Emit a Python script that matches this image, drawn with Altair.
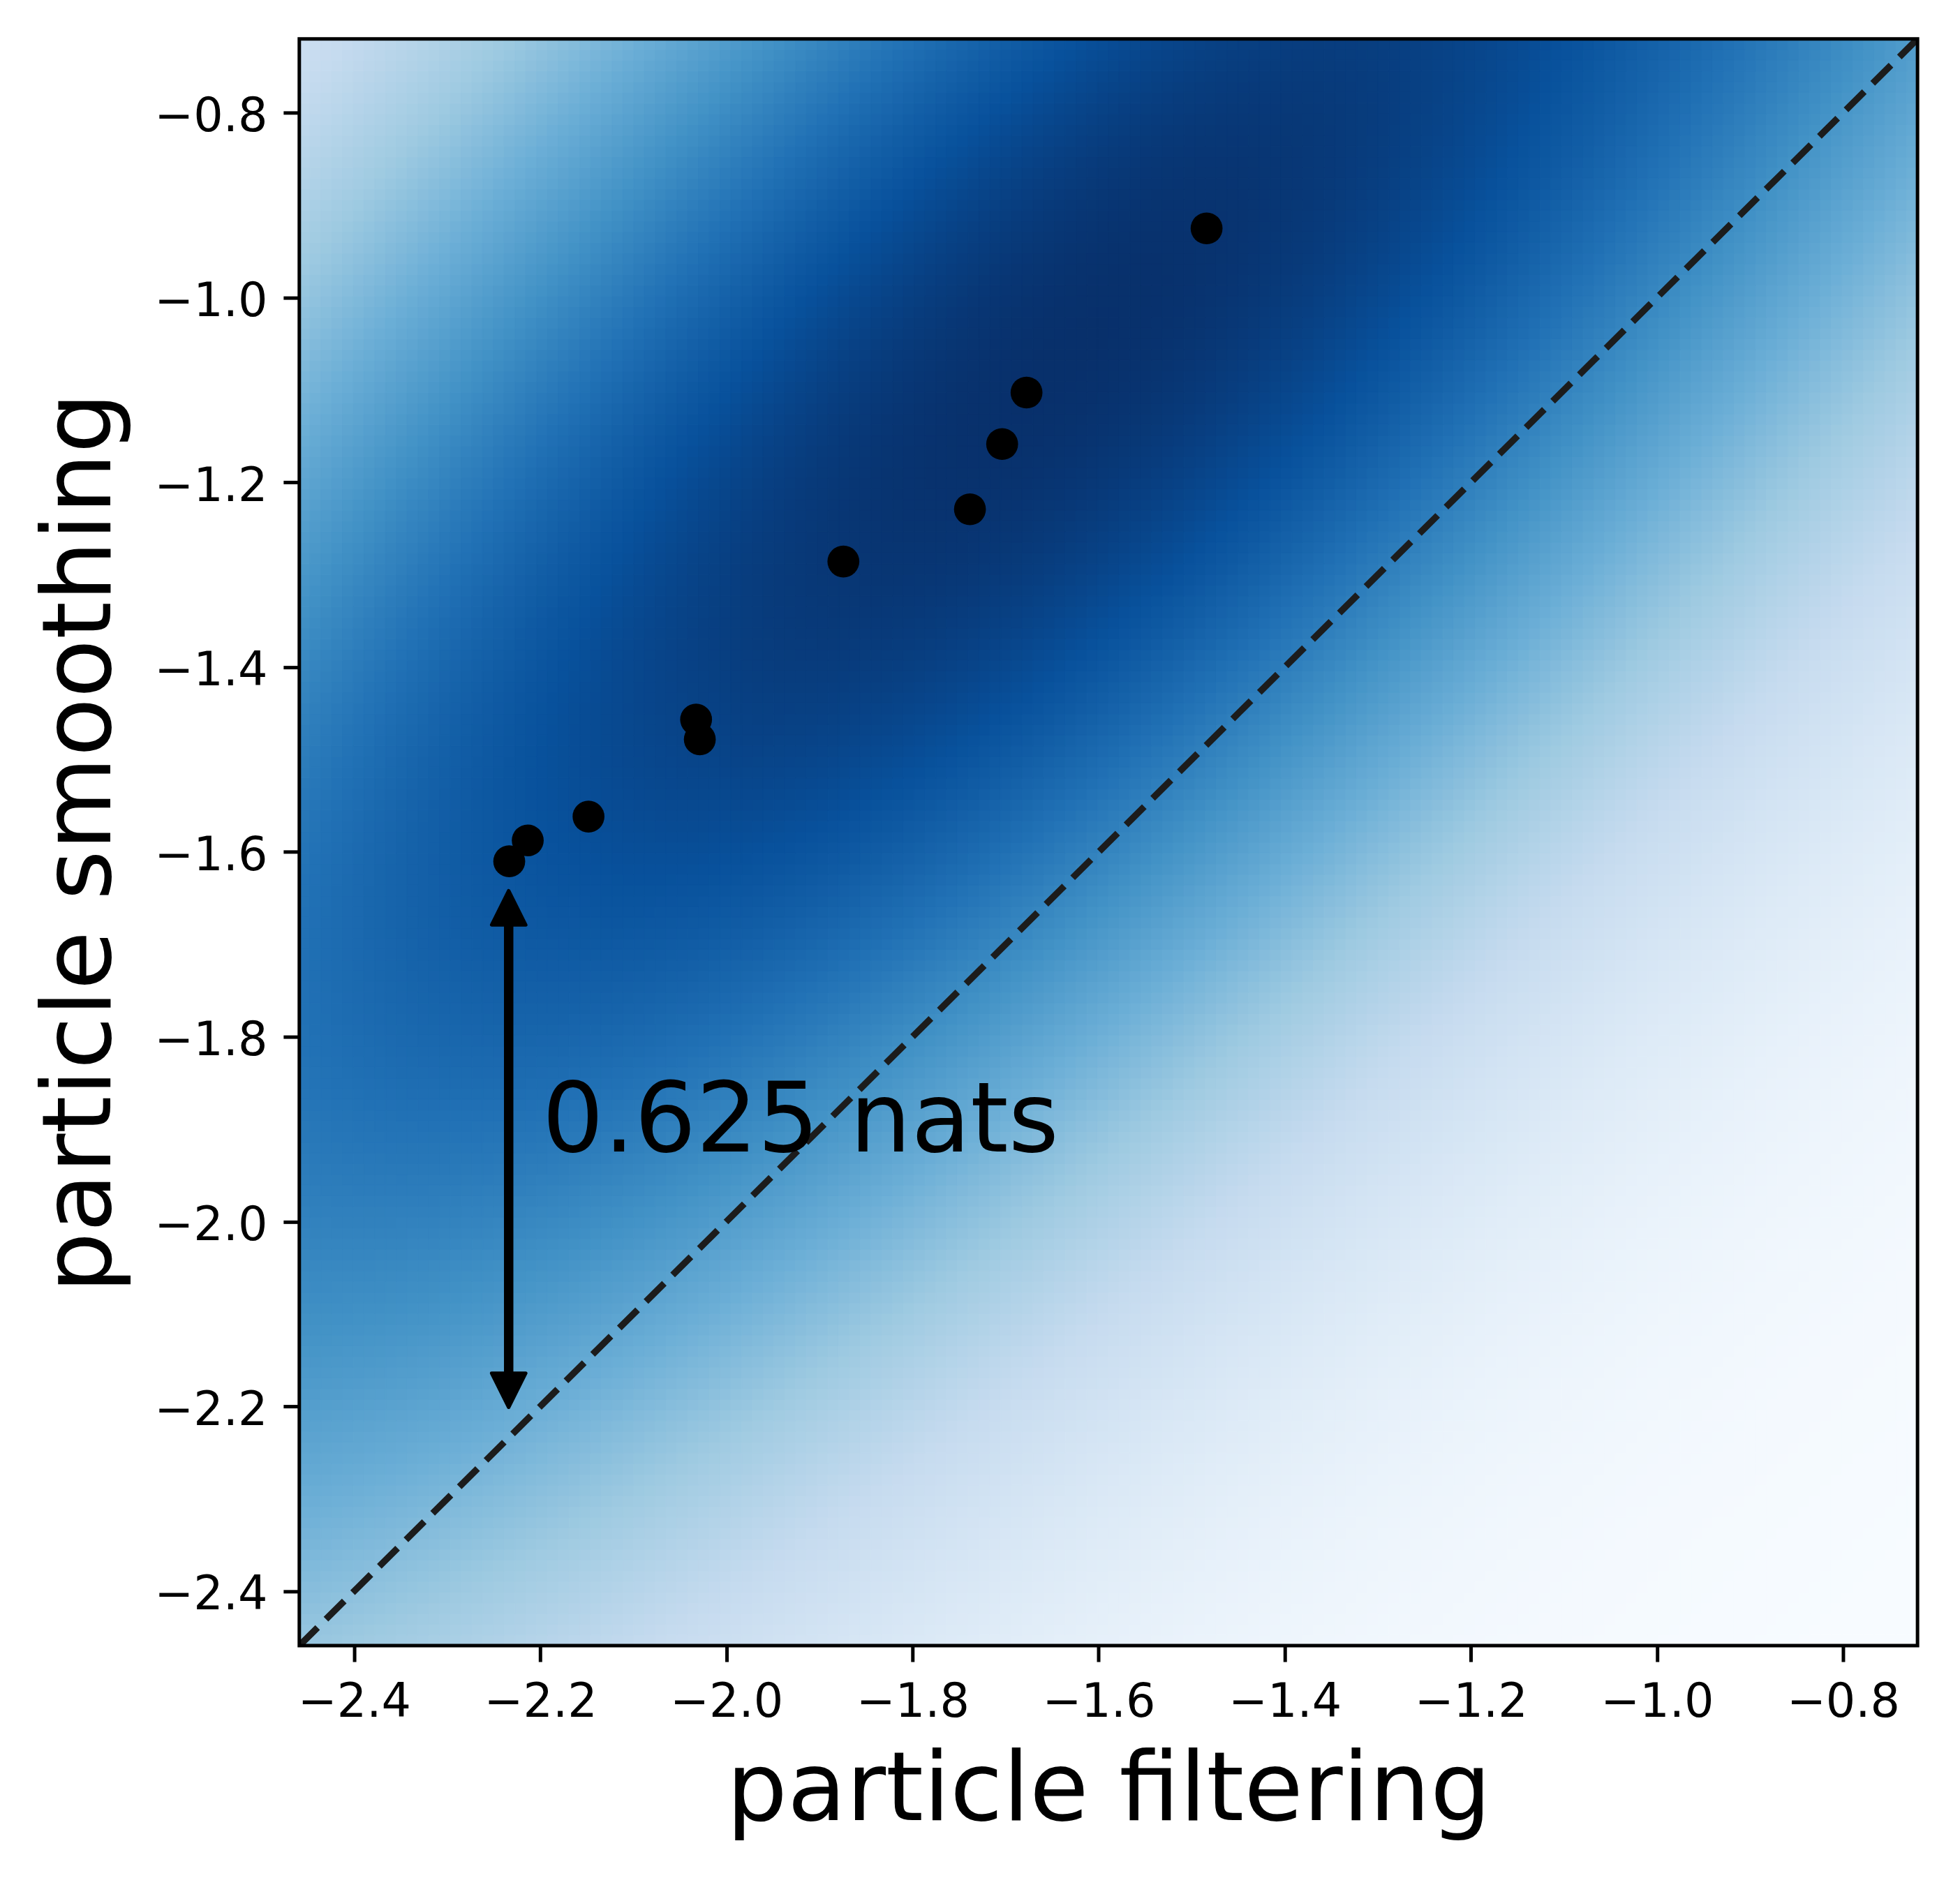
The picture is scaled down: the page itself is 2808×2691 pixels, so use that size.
import numpy as np
import pandas as pd
import altair as alt

alt.data_transformers.disable_max_rows()

# ---------------- values ----------------
axis_lo = -2.459
axis_hi = -0.720
tick_values = [-2.4, -2.2, -2.0, -1.8, -1.6, -1.4, -1.2, -1.0, -0.8]

# scatter points (particle filtering, particle smoothing)
pf_values = [-2.2334, -2.2135, -2.1482, -2.0326, -2.0286, -1.8743, -1.7383, -1.7037, -1.6775, -1.4840]
ps_values = [-1.6101, -1.5875, -1.5617, -1.4567, -1.4781, -1.2856, -1.2291, -1.1585, -1.1028, -0.9251]

# double arrow and its label
arrow_x = -2.234
arrow_top = -1.642
arrow_bottom = -2.201
gap_label = "0.625 nats"
label_x = -2.198
label_y = -1.924

# shape of the background density (centre, spreads along / across the ridge)
density_center = [-1.64, -1.07]
density_sd_along = 1.45
density_sd_across = 0.48
density_angle_deg = 45.0
grid_n = 150

blues = ["#f7fbff", "#deebf7", "#c6dbef", "#9ecae1", "#6baed6",
         "#4292c6", "#2171b5", "#08519c", "#08306b"]

# ---------------- build tables ----------------
edges = np.linspace(axis_lo, axis_hi, grid_n + 1)
centers = (edges[:-1] + edges[1:]) / 2
XX, YY = np.meshgrid(centers, centers)
th = np.deg2rad(density_angle_deg)
dx = XX - density_center[0]
dy = YY - density_center[1]
u = dx * np.cos(th) + dy * np.sin(th)
v = -dx * np.sin(th) + dy * np.cos(th)
dens = np.exp(-0.5 * (u / density_sd_along) ** 2 - 0.5 * (v / density_sd_across) ** 2)
dens = (dens - dens.min()) / (dens.max() - dens.min())

ix, iy = np.meshgrid(np.arange(grid_n), np.arange(grid_n))
heat_df = pd.DataFrame({
    "x0": np.round(edges[ix.ravel()], 5),
    "x1": np.round(edges[ix.ravel() + 1], 5),
    "y0": np.round(edges[iy.ravel()], 5),
    "y1": np.round(edges[iy.ravel() + 1], 5),
    "v": np.round(dens.ravel(), 4),
})

points_df = pd.DataFrame({"pf": pf_values, "ps": ps_values})
diag_df = pd.DataFrame({"x": [axis_lo, axis_hi], "y": [axis_lo, axis_hi]})
head_len = 0.03
shaft_df = pd.DataFrame({"x": [arrow_x], "y": [arrow_top - head_len], "y2": [arrow_bottom + head_len]})
heads_df = pd.DataFrame({"x": [arrow_x, arrow_x], "y": [arrow_top, arrow_bottom], "dir": ["up", "down"]})
label_df = pd.DataFrame({"x": [label_x], "y": [label_y], "t": [gap_label]})
frame_df = pd.DataFrame({"x": [axis_lo], "x2": [axis_hi], "y": [axis_lo], "y2": [axis_hi]})

# ---------------- scales / axes ----------------
FONT = "DejaVu Sans"
xscale = alt.Scale(domain=[axis_lo, axis_hi], nice=False, zero=False)
yscale = alt.Scale(domain=[axis_lo, axis_hi], nice=False, zero=False)
cscale = alt.Scale(type="linear", domain=list(np.linspace(0, 1, len(blues))),
                   range=blues, interpolate="rgb", clamp=True)

xaxis = alt.Axis(title="particle filtering", values=tick_values, format=".1f",
                 labelPadding=26, titleY=250)
yaxis = alt.Axis(title="particle smoothing", values=tick_values, format=".1f",
                 labelPadding=23, labelOffset=6, titleX=-272, titleAngle=270)

heat = alt.Chart(heat_df).mark_rect(strokeWidth=1.2).encode(
    x=alt.X("x0:Q", scale=xscale, axis=xaxis),
    x2="x1:Q",
    y=alt.Y("y0:Q", scale=yscale, axis=yaxis),
    y2="y1:Q",
    fill=alt.Fill("v:Q", scale=cscale, legend=None),
    stroke=alt.Stroke("v:Q", scale=cscale, legend=None),
)

diag = alt.Chart(diag_df).mark_line(
    strokeDash=[37, 17], strokeWidth=9.5, color="#1c1c1c", strokeCap="butt", clip=True
).encode(
    x=alt.X("x:Q", scale=xscale),
    y=alt.Y("y:Q", scale=yscale),
)

shaft = alt.Chart(shaft_df).mark_rule(strokeWidth=13.5, color="black").encode(
    x=alt.X("x:Q", scale=xscale),
    y=alt.Y("y:Q", scale=yscale),
    y2="y2:Q",
)

heads = alt.Chart(heads_df).mark_point(
    filled=True, size=2400, fill="black", stroke="black", strokeWidth=5,
    strokeJoin="round", opacity=1
).encode(
    x=alt.X("x:Q", scale=xscale),
    y=alt.Y("y:Q", scale=yscale),
    shape=alt.Shape("dir:N", scale=alt.Scale(domain=["up", "down"],
                    range=["M0,0L1,2L-1,2Z", "M0,0L1,-2L-1,-2Z"]), legend=None),
)

pts = alt.Chart(points_df).mark_circle(size=2100, color="black", opacity=1).encode(
    x=alt.X("pf:Q", scale=xscale),
    y=alt.Y("ps:Q", scale=yscale),
)

label = alt.Chart(label_df).mark_text(
    align="left", baseline="alphabetic", font=FONT, fontSize=139, color="black"
).encode(
    x=alt.X("x:Q", scale=xscale),
    y=alt.Y("y:Q", scale=yscale),
    text="t:N",
)

frame = alt.Chart(frame_df).mark_rect(filled=False, color="black", strokeWidth=5).encode(
    x=alt.X("x:Q", scale=xscale),
    x2="x2:Q",
    y=alt.Y("y:Q", scale=yscale),
    y2="y2:Q",
)

chart = alt.layer(heat, diag, shaft, heads, pts, label, frame).properties(
    width=2325, height=2309,
    autosize=alt.AutoSizeParams(type="none"),
    padding={"left": 422, "top": 44, "right": 53, "bottom": 322},
    background="white",
).configure_view(
    stroke="transparent"
).configure_axis(
    grid=False, domain=False,
    labelFont=FONT, labelFontSize=67, labelColor="black",
    tickSize=23, tickWidth=5, tickColor="black",
    labelFlush=False, labelOverlap=False,
    titleFont=FONT, titleFontSize=138, titleFontWeight="normal", titleColor="black",
    titleBaseline="alphabetic",
)

chart.save("out.html", embed_options={"renderer": "svg", "actions": False})
